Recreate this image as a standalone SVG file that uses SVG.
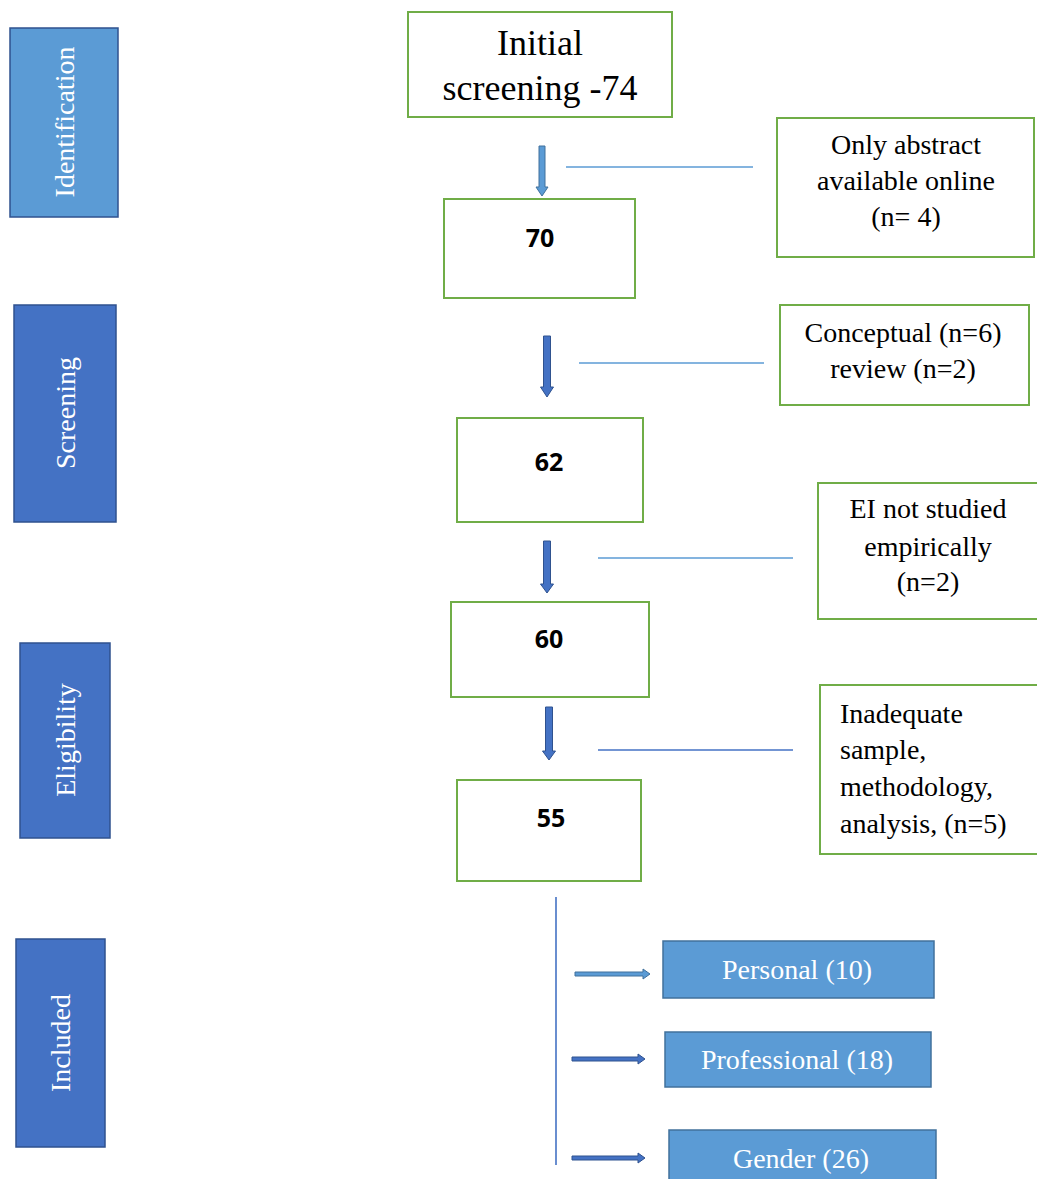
<svg xmlns="http://www.w3.org/2000/svg" width="1037" height="1179" viewBox="0 0 1037 1179">
<style>
.stage{stroke:#2F528F;stroke-width:1.5}
.stage1{fill:#5B9BD5}
.stage2{fill:#4472C4}
.stxt{font-family:"Liberation Serif","Times New Roman",serif;font-size:28px;fill:#ffffff;text-anchor:middle;dominant-baseline:central}
.box{fill:#ffffff;stroke:#70AD47;stroke-width:2}
.serif{font-family:"Liberation Serif","Times New Roman",serif;font-size:28px;fill:#000000;text-anchor:middle}
.num{font-family:"Open Sans","Liberation Sans",sans-serif;font-weight:bold;font-size:25px;fill:#000000;text-anchor:middle;dominant-baseline:central}
.cat{fill:#5B9BD5;stroke:#41719C;stroke-width:1.5}
.ctxt{font-family:"Liberation Serif","Times New Roman",serif;font-size:28px;fill:#ffffff;text-anchor:middle;dominant-baseline:central}
.link{stroke:#5B9BD5;stroke-width:1.6;fill:none}
.link2{stroke:#4472C4;stroke-width:1.6;fill:none}
.arrL{fill:#5B9BD5;stroke:#41719C;stroke-width:1}
.arrD{fill:#4472C4;stroke:#2F528F;stroke-width:1}
</style>

<g id="stage-identification">
<rect class="stage stage1" x="10" y="28" width="108" height="189"/>
<text class="stxt" transform="translate(64,122) rotate(-90)">Identification</text>
</g>
<g id="stage-screening">
<rect class="stage stage2" x="14" y="305" width="102" height="217"/>
<text class="stxt" transform="translate(65,413) rotate(-90)">Screening</text>
</g>
<g id="stage-eligibility">
<rect class="stage stage2" x="20" y="643" width="90" height="195"/>
<text class="stxt" transform="translate(65,740) rotate(-90)">Eligibility</text>
</g>
<g id="stage-included">
<rect class="stage stage2" x="16" y="939" width="89" height="208"/>
<text class="stxt" transform="translate(60,1043) rotate(-90)">Included</text>
</g>

<g id="node-initial">
<rect class="box" x="408" y="12" width="264" height="105"/>
<text class="serif" style="font-size:36px" x="540" y="55">Initial</text>
<text class="serif" style="font-size:36px" x="540" y="100">screening -74</text>
</g>
<g id="node-70">
<rect class="box" x="444" y="199" width="191" height="99"/>
<text class="num" x="540" y="237">70</text>
</g>
<g id="node-62">
<rect class="box" x="457" y="418" width="186" height="104"/>
<text class="num" x="549" y="461">62</text>
</g>
<g id="node-60">
<rect class="box" x="451" y="602" width="198" height="95"/>
<text class="num" x="549" y="638">60</text>
</g>
<g id="node-55">
<rect class="box" x="457" y="780" width="184" height="101"/>
<text class="num" x="551" y="817">55</text>
</g>

<g id="excl-abstract">
<rect class="box" x="777" y="118" width="257" height="139"/>
<text class="serif" x="906" y="154">Only abstract</text>
<text class="serif" x="906" y="190">available online</text>
<text class="serif" x="906" y="226">(n= 4)</text>
</g>
<g id="excl-conceptual">
<rect class="box" x="780" y="305" width="249" height="100"/>
<text class="serif" x="903" y="342">Conceptual (n=6)</text>
<text class="serif" x="903" y="378">review (n=2)</text>
</g>
<g id="excl-ei">
<rect class="box" x="818" y="483" width="222" height="136"/>
<text class="serif" x="928" y="518">EI not studied</text>
<text class="serif" x="928" y="556">empirically</text>
<text class="serif" x="928" y="591">(n=2)</text>
</g>
<g id="excl-inadequate">
<rect class="box" x="820" y="685" width="220" height="169"/>
<text class="serif" style="text-anchor:start" x="840" y="723">Inadequate</text>
<text class="serif" style="text-anchor:start" x="840" y="759">sample,</text>
<text class="serif" style="text-anchor:start" x="840" y="796">methodology,</text>
<text class="serif" style="text-anchor:start" x="840" y="833">analysis, (n=5)</text>
</g>

<g id="cat-personal">
<rect class="cat" x="663" y="941" width="271" height="57"/>
<text class="ctxt" x="797" y="969">Personal (10)</text>
</g>
<g id="cat-professional">
<rect class="cat" x="665" y="1032" width="266" height="55"/>
<text class="ctxt" x="797" y="1059">Professional (18)</text>
</g>
<g id="cat-gender">
<rect class="cat" x="669" y="1130" width="267" height="60"/>
<text class="ctxt" x="801" y="1158">Gender (26)</text>
</g>

<g id="connectors">
<polygon class="arrL" points="539,146 545,146 545,187 548,187 542,196 536,187 539,187"/>
<line class="link" x1="566" y1="167" x2="753" y2="167"/>
<polygon class="arrD" points="543.5,336 550.5,336 550.5,387 553.5,387 547,397 540.5,387 543.5,387"/>
<line class="link" x1="579" y1="363" x2="764" y2="363"/>
<polygon class="arrD" points="543.5,541 550.5,541 550.5,584 553.5,584 547,593 540.5,584 543.5,584"/>
<line class="link" x1="598" y1="558" x2="793" y2="558"/>
<polygon class="arrD" points="545.5,707 552.5,707 552.5,751 555.5,751 549,760 542.5,751 545.5,751"/>
<line class="link2" x1="598" y1="750" x2="793" y2="750"/>
<line class="link2" x1="556" y1="897" x2="556" y2="1165"/>
<polygon class="arrL" points="575,972 643,972 643,969 650,974 643,979 643,976 575,976"/>
<polygon class="arrD" points="572,1057 638,1057 638,1054 645,1059 638,1064 638,1061 572,1061"/>
<polygon class="arrD" points="572,1156 638,1156 638,1153 645,1158 638,1163 638,1160 572,1160"/>
</g>
</svg>
